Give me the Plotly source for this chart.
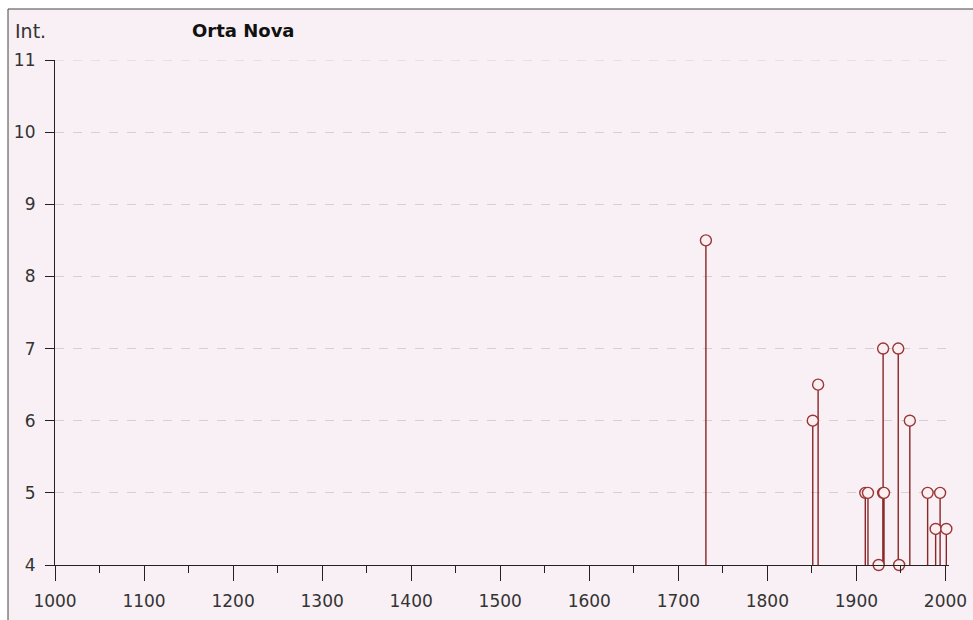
import plotly.graph_objects as go

title = "Orta Nova"
y_label = "Int."
years = [1731, 1851, 1857, 1910, 1913, 1925, 1930, 1930, 1931, 1947, 1948, 1960, 1980, 1989, 1994, 2001]
intensity = [8.5, 6.0, 6.5, 5.0, 5.0, 4.0, 7.0, 5.0, 5.0, 7.0, 4.0, 6.0, 5.0, 4.5, 5.0, 4.5]
x_ticks = [1000, 1100, 1200, 1300, 1400, 1500, 1600, 1700, 1800, 1900, 2000]
y_ticks = [4, 5, 6, 7, 8, 9, 10, 11]
base = 4

W, H = 973, 620
ml, mr, mt, mb = 55, 24, 60, 55
pw, ph = W - ml - mr, H - mt - mb

stem_x, stem_y = [], []
for yr, v in zip(years, intensity):
    stem_x += [yr, yr, None]
    stem_y += [base, v, None]

fig = go.Figure()
fig.add_trace(go.Scatter(x=stem_x, y=stem_y, mode="lines",
                         line=dict(color="#8a2626", width=1.4), hoverinfo="skip",
                         showlegend=False, cliponaxis=False))
fig.add_trace(go.Scatter(x=years, y=intensity, mode="markers",
                         marker=dict(symbol="circle", size=11, color="#fbeff2",
                                     line=dict(color="#9a3636", width=1.4)),
                         showlegend=False, cliponaxis=False))

def px_x(p):
    return (p - ml) / pw

def px_y(p):
    return (H - mb - p) / ph

fig.add_shape(type="rect", xref="paper", yref="paper",
              x0=px_x(8), x1=px_x(975), y0=px_y(622), y1=px_y(9),
              line=dict(color="#444", width=1), fillcolor="#f8f0f4", layer="below")
# dashed grid line at the top of the range (Plotly drops edge gridlines)
fig.add_shape(type="line", xref="paper", yref="y", x0=0, x1=1, y0=y_ticks[-1], y1=y_ticks[-1],
              line=dict(color="#d6d0d2", width=1, dash="dash"), layer="below")

fig.add_annotation(text=y_label, xref="paper", yref="paper", x=px_x(13), y=px_y(31),
                   xanchor="left", yanchor="middle", showarrow=False,
                   font=dict(family="DejaVu Sans", size=19, color="#333"))
fig.add_annotation(text="<b>" + title + "</b>", xref="paper", yref="paper", x=px_x(190), y=px_y(31),
                   xanchor="left", yanchor="middle", showarrow=False,
                   font=dict(family="DejaVu Sans", size=18, color="#111"))

fig.update_layout(
    width=W, height=H,
    margin=dict(l=ml, r=mr, t=mt, b=mb, pad=0, autoexpand=False),
    paper_bgcolor="white", plot_bgcolor="rgba(0,0,0,0)",
    font=dict(family="DejaVu Sans", size=16, color="#333"),
    xaxis=dict(range=[1000, 2004], tickvals=x_ticks, ticks="outside", ticklen=15,
               tickcolor="#222", showline=True, linecolor="#222", linewidth=1.2,
               showgrid=False, zeroline=False, automargin=False, ticklabelstandoff=5,
               minor=dict(tickvals=[1050 + 100 * i for i in range(10)], ticks="outside",
                          ticklen=7, tickcolor="#222"),
               tickfont=dict(size=17, color="#333")),
    yaxis=dict(range=[4, 11], tickvals=y_ticks, ticks="outside", ticklen=9,
               tickcolor="#222", showline=True, linecolor="#222", linewidth=1.2,
               showgrid=True, gridcolor="#d6d0d2", griddash="dash", gridwidth=1,
               zeroline=False, automargin=False, ticklabelstandoff=6,
               tickfont=dict(size=17, color="#333")),
)
fig.write_html("out.html", config={"displayModeBar": False})

# remove the default 8px body margin so the figure sits at the window origin
with open("out.html", "r", encoding="utf-8") as f:
    html = f.read()
html = html.replace("<head>", "<head><style>html,body{margin:0;padding:0;overflow:hidden}</style>", 1)
with open("out.html", "w", encoding="utf-8") as f:
    f.write(html)
